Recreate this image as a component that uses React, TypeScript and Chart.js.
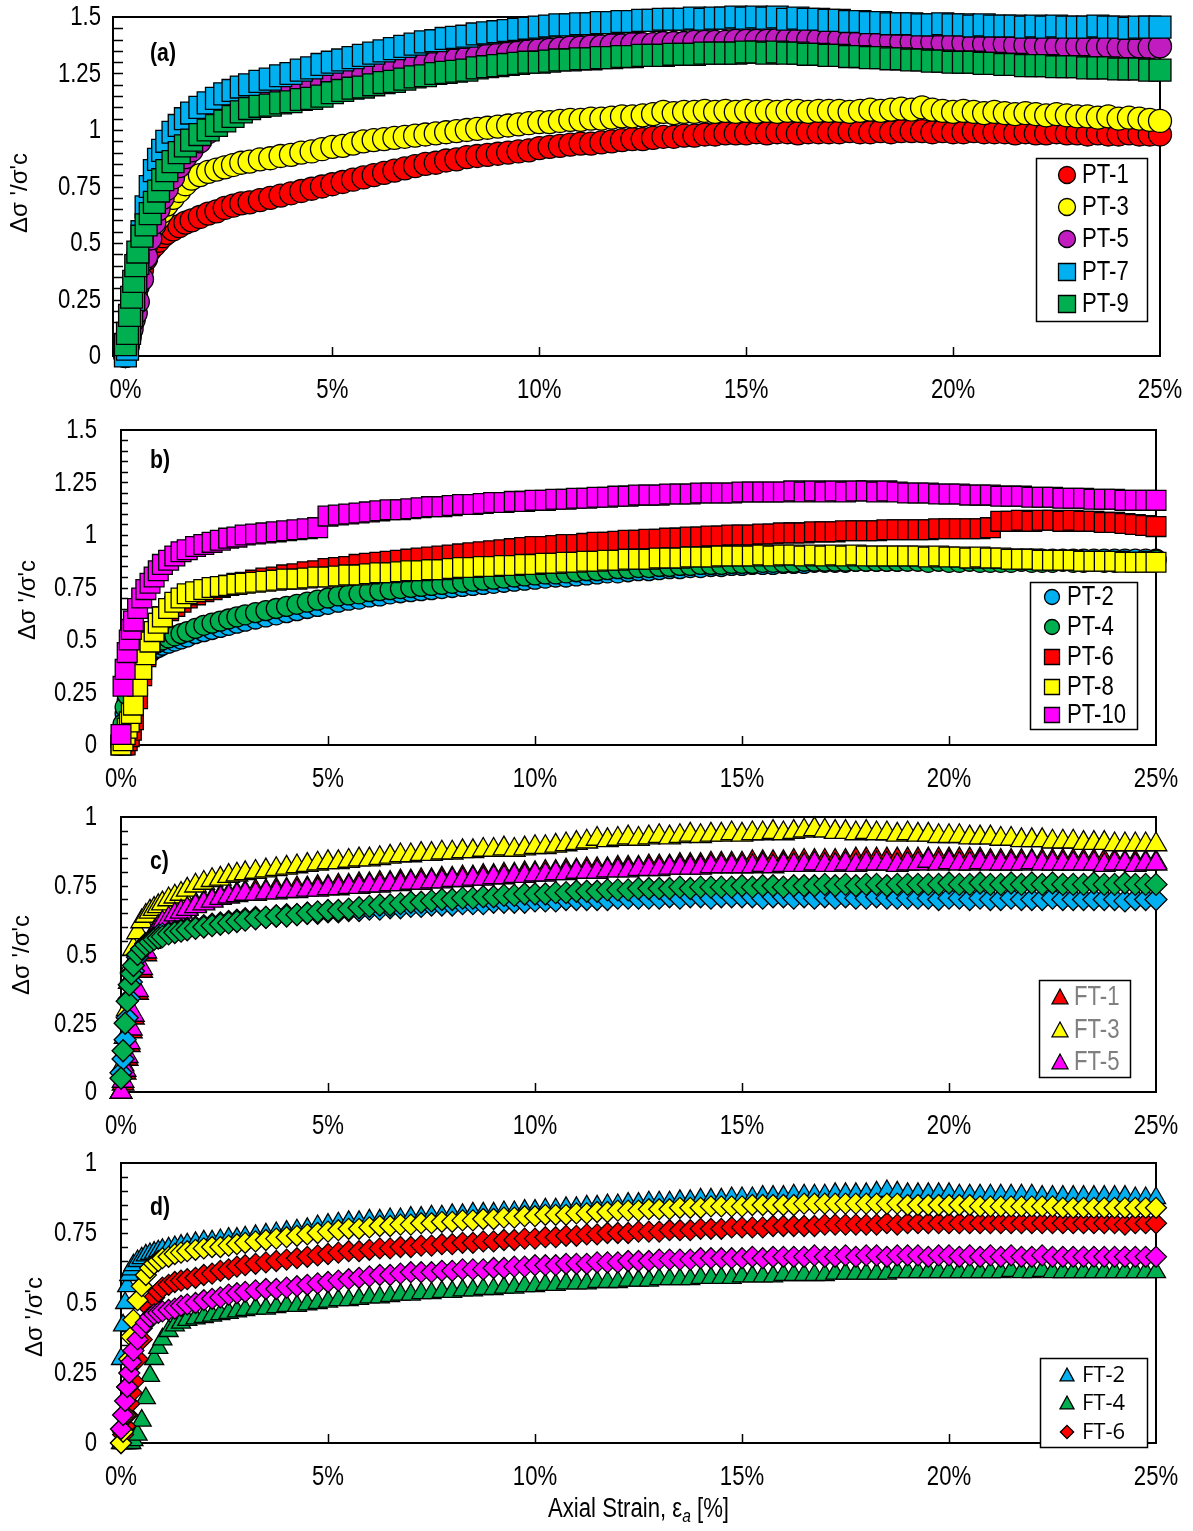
import React, { useEffect, useRef } from 'react';
import { Chart, registerables } from 'chart.js';

Chart.register(...registerables);

// ---------- DATA ----------
const strain = [
  0, 0.05, 0.1, 0.15, 0.2, 0.25, 0.3, 0.4, 0.5, 0.6, 0.7, 0.8, 0.9, 1, 1.15, 1.3, 1.45, 1.6, 1.8, 2, 2.2, 2.4, 2.6, 2.8, 3,
  3.25, 3.5, 3.75, 4, 4.25, 4.5, 4.75, 5,
  5.25, 5.5, 5.75, 6, 6.25, 6.5, 6.75, 7,
  7.25, 7.5, 7.75, 8, 8.25, 8.5, 8.75, 9,
  9.25, 9.5, 9.75, 10, 10.25, 10.5, 10.75, 11,
  11.25, 11.5, 11.75, 12, 12.25, 12.5, 12.75, 13,
  13.25, 13.5, 13.75, 14, 14.25, 14.5, 14.75, 15,
  15.25, 15.5, 15.75, 16, 16.25, 16.5, 16.75, 17,
  17.25, 17.5, 17.75, 18, 18.25, 18.5, 18.75, 19,
  19.25, 19.5, 19.75, 20, 20.25, 20.5, 20.75, 21,
  21.25, 21.5, 21.75, 22, 22.25, 22.5, 22.75, 23,
  23.25, 23.5, 23.75, 24, 24.25, 24.5, 24.75, 25,
];

// Panel (a)
const PT1 = [
  0, 0.04, 0.09, 0.14, 0.2, 0.26, 0.31, 0.38, 0.43, 0.47, 0.49, 0.51, 0.53, 0.545, 0.56, 0.575, 0.59, 0.6, 0.615, 0.63, 0.64, 0.655, 0.665, 0.675, 0.68,
  0.69, 0.7, 0.71, 0.72, 0.73, 0.74, 0.75, 0.76,
  0.77, 0.78, 0.79, 0.8, 0.81, 0.82, 0.83, 0.84,
  0.85, 0.855, 0.865, 0.87, 0.88, 0.885, 0.89, 0.895,
  0.9, 0.905, 0.91, 0.92, 0.925, 0.93, 0.935, 0.94,
  0.94, 0.945, 0.95, 0.955, 0.96, 0.96, 0.965, 0.97,
  0.97, 0.975, 0.975, 0.98, 0.98, 0.985, 0.985, 0.985,
  0.99, 0.985, 0.99, 0.99, 0.985, 0.99, 0.99, 0.99,
  0.99, 0.995, 0.99, 0.99, 0.995, 0.99, 0.995, 0.995,
  0.995, 0.99, 0.995, 0.99, 0.99, 0.995, 0.99, 0.99,
  0.99, 0.985, 0.99, 0.985, 0.985, 0.99, 0.985, 0.985,
  0.98, 0.985, 0.98, 0.98, 0.985, 0.98, 0.98, 0.98,
];
const PT3 = [
  0, 0.05, 0.1, 0.15, 0.21, 0.27, 0.33, 0.42, 0.49, 0.54, 0.58, 0.61, 0.64, 0.67, 0.7, 0.73, 0.76, 0.785, 0.8, 0.815, 0.825, 0.835, 0.845, 0.855, 0.86,
  0.87, 0.875, 0.885, 0.89, 0.9, 0.905, 0.915, 0.925,
  0.93, 0.94, 0.95, 0.955, 0.96, 0.965, 0.97, 0.975,
  0.98, 0.985, 0.99, 0.995, 1.0, 1.005, 1.01, 1.015,
  1.02, 1.025, 1.03, 1.035, 1.035, 1.04, 1.045, 1.045,
  1.05, 1.05, 1.055, 1.06, 1.06, 1.065, 1.07, 1.08,
  1.075, 1.08, 1.08, 1.085, 1.08, 1.085, 1.08, 1.085,
  1.08, 1.085, 1.08, 1.085, 1.085, 1.08, 1.085, 1.085,
  1.085, 1.08, 1.085, 1.09, 1.085, 1.09, 1.095, 1.09,
  1.1, 1.09, 1.085, 1.08, 1.085, 1.08, 1.075, 1.08,
  1.075, 1.07, 1.075, 1.07, 1.065, 1.07, 1.065, 1.06,
  1.06, 1.055, 1.06, 1.05, 1.055, 1.05, 1.045, 1.04,
];
const PT5 = [
  0, 0.04, 0.08, 0.12, 0.16, 0.19, 0.24, 0.34, 0.44, 0.52, 0.59, 0.65, 0.7, 0.74, 0.79, 0.84, 0.88, 0.91, 0.95, 0.99, 1.02, 1.05, 1.08, 1.1, 1.12,
  1.14, 1.15, 1.16, 1.17, 1.18, 1.19, 1.2, 1.215,
  1.225, 1.235, 1.245, 1.255, 1.265, 1.27, 1.28, 1.29,
  1.295, 1.3, 1.31, 1.315, 1.32, 1.325, 1.33, 1.335,
  1.34, 1.345, 1.35, 1.355, 1.355, 1.36, 1.365, 1.365,
  1.37, 1.37, 1.375, 1.375, 1.38, 1.38, 1.38, 1.385,
  1.385, 1.385, 1.39, 1.39, 1.39, 1.39, 1.395, 1.395,
  1.395, 1.395, 1.4, 1.4, 1.4, 1.4, 1.4, 1.4,
  1.4, 1.395, 1.4, 1.395, 1.395, 1.395, 1.39, 1.39,
  1.39, 1.39, 1.385, 1.385, 1.385, 1.38, 1.38, 1.38,
  1.38, 1.375, 1.375, 1.375, 1.37, 1.37, 1.37, 1.37,
  1.37, 1.365, 1.37, 1.365, 1.365, 1.37, 1.365, 1.37,
];
const PT7 = [
  0, 0.03, 0.1, 0.18, 0.25, 0.33, 0.41, 0.55, 0.66, 0.75, 0.82, 0.87, 0.91, 0.95, 0.99, 1.02, 1.05, 1.075, 1.1, 1.12, 1.14, 1.16, 1.175, 1.19, 1.2,
  1.215, 1.225, 1.24, 1.25, 1.265, 1.275, 1.29, 1.3,
  1.31, 1.32, 1.33, 1.34, 1.35, 1.36, 1.37, 1.38,
  1.39, 1.395, 1.405, 1.41, 1.415, 1.425, 1.43, 1.435,
  1.44, 1.445, 1.45, 1.455, 1.46, 1.465, 1.465, 1.47,
  1.47, 1.475, 1.475, 1.48, 1.48, 1.485, 1.485, 1.49,
  1.49, 1.49, 1.495, 1.49, 1.495, 1.495, 1.5, 1.495,
  1.5, 1.495, 1.5, 1.49, 1.495, 1.49, 1.49, 1.485,
  1.485, 1.48, 1.48, 1.475, 1.475, 1.47, 1.47, 1.47,
  1.465, 1.465, 1.47, 1.465, 1.465, 1.46, 1.465, 1.46,
  1.46, 1.46, 1.455, 1.46, 1.455, 1.46, 1.455, 1.455,
  1.455, 1.46, 1.455, 1.455, 1.45, 1.455, 1.455, 1.455,
];
const PT9 = [
  0.05, 0.1, 0.18, 0.26, 0.33, 0.4, 0.46, 0.53, 0.58, 0.63, 0.68, 0.73, 0.78, 0.82, 0.86, 0.9, 0.93, 0.955, 0.98, 1.0, 1.02, 1.04, 1.06, 1.08, 1.095,
  1.105, 1.11, 1.12, 1.125, 1.135, 1.14, 1.15, 1.165,
  1.175, 1.185, 1.19, 1.2, 1.21, 1.215, 1.225, 1.235,
  1.24, 1.25, 1.255, 1.26, 1.265, 1.275, 1.28, 1.285,
  1.29, 1.295, 1.3, 1.3, 1.305, 1.31, 1.31, 1.315,
  1.315, 1.32, 1.32, 1.325, 1.325, 1.33, 1.33, 1.33,
  1.335, 1.335, 1.335, 1.34, 1.34, 1.34, 1.34, 1.345,
  1.345, 1.34, 1.345, 1.34, 1.34, 1.335, 1.335, 1.33,
  1.33, 1.325, 1.325, 1.32, 1.32, 1.315, 1.315, 1.31,
  1.31, 1.305, 1.305, 1.3, 1.3, 1.3, 1.295, 1.295,
  1.29, 1.29, 1.285, 1.285, 1.285, 1.28, 1.28, 1.28,
  1.275, 1.275, 1.275, 1.27, 1.27, 1.27, 1.265, 1.265,
];

// Panel (b)
const PT2 = [
  0, 0.08, 0.15, 0.21, 0.26, 0.3, 0.33, 0.37, 0.4, 0.42, 0.44, 0.455, 0.465, 0.475, 0.485, 0.495, 0.505, 0.515, 0.53, 0.54, 0.55, 0.56, 0.57, 0.58, 0.59,
  0.6, 0.61, 0.62, 0.63, 0.64, 0.65, 0.66, 0.67,
  0.68, 0.69, 0.695, 0.705, 0.71, 0.72, 0.725, 0.73,
  0.735, 0.74, 0.745, 0.75, 0.755, 0.76, 0.765, 0.77,
  0.775, 0.78, 0.785, 0.79, 0.795, 0.8, 0.8, 0.805,
  0.81, 0.815, 0.82, 0.82, 0.825, 0.83, 0.83, 0.835,
  0.84, 0.84, 0.845, 0.845, 0.85, 0.85, 0.855, 0.855,
  0.86, 0.86, 0.86, 0.865, 0.865, 0.865, 0.87, 0.87,
  0.87, 0.87, 0.875, 0.875, 0.875, 0.875, 0.875, 0.88,
  0.88, 0.88, 0.88, 0.88, 0.88, 0.885, 0.885, 0.885,
  0.885, 0.885, 0.885, 0.885, 0.885, 0.885, 0.885, 0.885,
  0.885, 0.885, 0.885, 0.885, 0.885, 0.885, 0.885, 0.885,
];
const PT4 = [
  0, 0.1, 0.18, 0.24, 0.29, 0.33, 0.36, 0.4, 0.43, 0.45, 0.47, 0.48, 0.49, 0.5, 0.51, 0.52, 0.53, 0.54, 0.555, 0.57, 0.58, 0.59, 0.6, 0.61, 0.62,
  0.63, 0.64, 0.65, 0.66, 0.67, 0.68, 0.69, 0.7,
  0.71, 0.715, 0.72, 0.73, 0.735, 0.74, 0.745, 0.75,
  0.755, 0.76, 0.765, 0.77, 0.775, 0.78, 0.785, 0.79,
  0.795, 0.8, 0.805, 0.81, 0.815, 0.815, 0.82, 0.825,
  0.83, 0.83, 0.835, 0.84, 0.84, 0.845, 0.845, 0.85,
  0.85, 0.855, 0.855, 0.86, 0.86, 0.86, 0.865, 0.865,
  0.865, 0.87, 0.87, 0.87, 0.87, 0.875, 0.875, 0.875,
  0.875, 0.875, 0.875, 0.875, 0.875, 0.875, 0.875, 0.875,
  0.875, 0.87, 0.875, 0.87, 0.87, 0.875, 0.87, 0.87,
  0.87, 0.87, 0.875, 0.87, 0.87, 0.87, 0.875, 0.87,
  0.87, 0.875, 0.87, 0.87, 0.875, 0.87, 0.875, 0.88,
];
const PT6 = [
  0, 0, 0, 0.02, 0.04, 0.07, 0.12, 0.22, 0.33, 0.42, 0.49, 0.54, 0.58, 0.61, 0.64, 0.66, 0.68, 0.7, 0.715, 0.73, 0.74, 0.75, 0.76, 0.77, 0.775,
  0.785, 0.795, 0.8, 0.81, 0.815, 0.825, 0.83, 0.84,
  0.845, 0.85, 0.86, 0.865, 0.87, 0.875, 0.88, 0.885,
  0.89, 0.895, 0.9, 0.905, 0.91, 0.915, 0.92, 0.925,
  0.93, 0.935, 0.94, 0.945, 0.945, 0.95, 0.955, 0.955,
  0.96, 0.965, 0.965, 0.97, 0.975, 0.975, 0.98, 0.98,
  0.985, 0.985, 0.99, 0.99, 0.995, 0.995, 1.0, 1.0,
  1.0, 1.005, 1.005, 1.01, 1.01, 1.01, 1.015, 1.015,
  1.015, 1.02, 1.02, 1.02, 1.02, 1.025, 1.025, 1.025,
  1.025, 1.025, 1.03, 1.03, 1.03, 1.03, 1.03, 1.035,
  1.065, 1.065, 1.07, 1.065, 1.07, 1.07, 1.065, 1.07,
  1.065, 1.065, 1.06, 1.06, 1.055, 1.05, 1.045, 1.04,
];
const PT8 = [
  0, 0.02, 0.05, 0.08, 0.11, 0.15, 0.19, 0.28, 0.36, 0.43, 0.49, 0.54, 0.58, 0.61, 0.65, 0.68, 0.7, 0.72, 0.73, 0.74, 0.75, 0.755, 0.76, 0.765, 0.77,
  0.775, 0.78, 0.785, 0.79, 0.79, 0.795, 0.8, 0.8,
  0.805, 0.81, 0.81, 0.815, 0.82, 0.82, 0.825, 0.83,
  0.83, 0.835, 0.835, 0.84, 0.845, 0.845, 0.85, 0.85,
  0.855, 0.855, 0.86, 0.86, 0.865, 0.865, 0.87, 0.87,
  0.875, 0.875, 0.88, 0.88, 0.885, 0.885, 0.885, 0.89,
  0.89, 0.89, 0.895, 0.895, 0.895, 0.9, 0.9, 0.9,
  0.9, 0.905, 0.9, 0.905, 0.905, 0.9, 0.905, 0.9,
  0.905, 0.9, 0.905, 0.9, 0.9, 0.9, 0.9, 0.9,
  0.9, 0.895, 0.9, 0.895, 0.895, 0.89, 0.895, 0.89,
  0.89, 0.885, 0.885, 0.885, 0.88, 0.88, 0.88, 0.88,
  0.875, 0.875, 0.875, 0.875, 0.87, 0.87, 0.87, 0.87,
];
const PT10 = [
  0.05, 0.28, 0.36, 0.44, 0.5, 0.55, 0.59, 0.65, 0.7, 0.74, 0.77, 0.8, 0.83, 0.86, 0.88, 0.9, 0.92, 0.93, 0.945, 0.955, 0.965, 0.975, 0.985, 0.99, 1.0,
  1.005, 1.01, 1.015, 1.02, 1.025, 1.03, 1.035, 1.09,
  1.095, 1.1, 1.105, 1.11, 1.115, 1.12, 1.12, 1.125,
  1.13, 1.135, 1.135, 1.14, 1.145, 1.145, 1.15, 1.155,
  1.155, 1.16, 1.16, 1.165, 1.165, 1.17, 1.17, 1.175,
  1.175, 1.18, 1.18, 1.185, 1.185, 1.19, 1.19, 1.19,
  1.195, 1.195, 1.195, 1.2, 1.2, 1.2, 1.2, 1.205,
  1.205, 1.205, 1.205, 1.205, 1.21, 1.205, 1.21, 1.205,
  1.21, 1.205, 1.21, 1.21, 1.205, 1.21, 1.205, 1.2,
  1.2, 1.2, 1.195, 1.195, 1.195, 1.19, 1.19, 1.19,
  1.185, 1.185, 1.185, 1.18, 1.18, 1.18, 1.175, 1.175,
  1.175, 1.17, 1.17, 1.17, 1.165, 1.165, 1.165, 1.165,
];

// Panel (c)
const FT1 = [
  0, 0.03, 0.07, 0.12, 0.17, 0.22, 0.27, 0.36, 0.44, 0.5, 0.545, 0.575, 0.6, 0.615, 0.635, 0.65, 0.66, 0.67, 0.68, 0.69, 0.7, 0.71, 0.715, 0.72, 0.725,
  0.73, 0.73, 0.735, 0.735, 0.74, 0.74, 0.745, 0.745,
  0.75, 0.75, 0.755, 0.755, 0.76, 0.76, 0.765, 0.765,
  0.77, 0.77, 0.775, 0.775, 0.78, 0.78, 0.785, 0.785,
  0.79, 0.79, 0.795, 0.795, 0.8, 0.8, 0.805, 0.805,
  0.81, 0.81, 0.81, 0.815, 0.815, 0.815, 0.82, 0.82,
  0.82, 0.825, 0.825, 0.825, 0.83, 0.83, 0.83, 0.83,
  0.835, 0.835, 0.835, 0.835, 0.84, 0.84, 0.84, 0.84,
  0.84, 0.84, 0.845, 0.845, 0.845, 0.845, 0.845, 0.845,
  0.845, 0.845, 0.845, 0.845, 0.845, 0.845, 0.845, 0.84,
  0.84, 0.84, 0.84, 0.84, 0.84, 0.84, 0.84, 0.84,
  0.84, 0.84, 0.84, 0.84, 0.835, 0.835, 0.835, 0.835,
];
const FT3 = [
  0, 0.1, 0.2, 0.3, 0.4, 0.46, 0.52, 0.58, 0.62, 0.64, 0.655, 0.665, 0.675, 0.685, 0.7, 0.71, 0.72, 0.735, 0.75, 0.76, 0.77, 0.775, 0.785, 0.79, 0.795,
  0.8, 0.805, 0.81, 0.815, 0.82, 0.825, 0.83, 0.835,
  0.835, 0.84, 0.845, 0.845, 0.85, 0.855, 0.86, 0.86,
  0.865, 0.865, 0.87, 0.87, 0.875, 0.875, 0.88, 0.88,
  0.885, 0.88, 0.885, 0.89, 0.89, 0.895, 0.9, 0.905,
  0.91, 0.92, 0.915, 0.92, 0.925, 0.92, 0.925, 0.93,
  0.925, 0.93, 0.935, 0.93, 0.935, 0.935, 0.94, 0.935,
  0.94, 0.94, 0.945, 0.94, 0.945, 0.95, 0.955, 0.95,
  0.945, 0.945, 0.94, 0.945, 0.94, 0.94, 0.935, 0.94,
  0.935, 0.935, 0.93, 0.93, 0.93, 0.925, 0.925, 0.925,
  0.92, 0.92, 0.915, 0.915, 0.915, 0.91, 0.91, 0.91,
  0.905, 0.905, 0.905, 0.9, 0.9, 0.9, 0.9, 0.9,
];
const FT5 = [
  0, 0.04, 0.08, 0.13, 0.18, 0.23, 0.28, 0.37, 0.45, 0.51, 0.55, 0.58, 0.6, 0.615, 0.63, 0.645, 0.655, 0.665, 0.675, 0.685, 0.695, 0.705, 0.71, 0.715, 0.72,
  0.72, 0.725, 0.725, 0.73, 0.73, 0.735, 0.735, 0.74,
  0.74, 0.745, 0.745, 0.75, 0.75, 0.755, 0.755, 0.76,
  0.76, 0.765, 0.765, 0.77, 0.77, 0.775, 0.775, 0.78,
  0.78, 0.785, 0.785, 0.79, 0.79, 0.795, 0.795, 0.8,
  0.8, 0.8, 0.805, 0.805, 0.805, 0.81, 0.81, 0.81,
  0.815, 0.815, 0.815, 0.815, 0.82, 0.82, 0.82, 0.82,
  0.82, 0.825, 0.82, 0.825, 0.825, 0.825, 0.83, 0.825,
  0.825, 0.83, 0.825, 0.83, 0.83, 0.83, 0.825, 0.83,
  0.83, 0.84, 0.83, 0.835, 0.83, 0.83, 0.835, 0.83,
  0.83, 0.83, 0.83, 0.835, 0.83, 0.83, 0.83, 0.83,
  0.83, 0.83, 0.825, 0.83, 0.83, 0.825, 0.83, 0.83,
];
const FT_C_BLUE = [
  0.07, 0.12, 0.19, 0.27, 0.34, 0.4, 0.44, 0.49, 0.52, 0.54, 0.55, 0.56, 0.57, 0.575, 0.58, 0.585, 0.59, 0.595, 0.6, 0.605, 0.61, 0.615, 0.62, 0.625, 0.63,
  0.635, 0.635, 0.64, 0.645, 0.645, 0.65, 0.65, 0.655,
  0.655, 0.66, 0.66, 0.665, 0.665, 0.67, 0.67, 0.675,
  0.675, 0.68, 0.68, 0.68, 0.685, 0.685, 0.685, 0.69,
  0.69, 0.69, 0.69, 0.695, 0.695, 0.695, 0.7, 0.7,
  0.7, 0.7, 0.7, 0.705, 0.705, 0.705, 0.705, 0.705,
  0.71, 0.705, 0.71, 0.71, 0.705, 0.71, 0.71, 0.71,
  0.71, 0.705, 0.71, 0.71, 0.705, 0.71, 0.705, 0.71,
  0.705, 0.71, 0.705, 0.705, 0.71, 0.705, 0.705, 0.705,
  0.705, 0.705, 0.7, 0.705, 0.705, 0.7, 0.705, 0.7,
  0.7, 0.705, 0.7, 0.7, 0.7, 0.705, 0.7, 0.7,
  0.7, 0.7, 0.7, 0.7, 0.695, 0.7, 0.7, 0.7,
];
const FT_C_GREEN = [
  0.05, 0.15, 0.25, 0.33, 0.39, 0.43, 0.46, 0.5, 0.52, 0.535, 0.545, 0.555, 0.56, 0.565, 0.575, 0.58, 0.585, 0.59, 0.595, 0.6, 0.605, 0.61, 0.615, 0.62, 0.625,
  0.63, 0.635, 0.64, 0.64, 0.645, 0.65, 0.655, 0.66,
  0.66, 0.665, 0.67, 0.675, 0.68, 0.68, 0.685, 0.69,
  0.69, 0.695, 0.7, 0.7, 0.705, 0.705, 0.71, 0.71,
  0.715, 0.715, 0.72, 0.72, 0.72, 0.725, 0.725, 0.73,
  0.73, 0.73, 0.735, 0.735, 0.735, 0.74, 0.74, 0.74,
  0.74, 0.745, 0.74, 0.745, 0.745, 0.745, 0.745, 0.75,
  0.745, 0.75, 0.75, 0.745, 0.75, 0.75, 0.75, 0.755,
  0.75, 0.755, 0.75, 0.755, 0.755, 0.75, 0.755, 0.755,
  0.755, 0.755, 0.755, 0.76, 0.755, 0.755, 0.76, 0.755,
  0.755, 0.76, 0.755, 0.76, 0.755, 0.76, 0.755, 0.755,
  0.755, 0.76, 0.755, 0.755, 0.76, 0.755, 0.755, 0.755,
];

// Panel (d)
const FT2 = [
  0.3, 0.42, 0.5, 0.56, 0.6, 0.62, 0.635, 0.65, 0.66, 0.67, 0.675, 0.68, 0.685, 0.69, 0.695, 0.7, 0.705, 0.71, 0.715, 0.72, 0.72, 0.725, 0.73, 0.73, 0.735,
  0.74, 0.745, 0.75, 0.755, 0.76, 0.765, 0.775, 0.78,
  0.785, 0.79, 0.79, 0.795, 0.795, 0.8, 0.8, 0.805,
  0.805, 0.81, 0.81, 0.815, 0.815, 0.82, 0.82, 0.82,
  0.825, 0.825, 0.83, 0.83, 0.835, 0.835, 0.84, 0.84,
  0.845, 0.845, 0.85, 0.85, 0.855, 0.855, 0.86, 0.86,
  0.86, 0.865, 0.865, 0.87, 0.87, 0.87, 0.875, 0.875,
  0.875, 0.88, 0.88, 0.88, 0.885, 0.885, 0.885, 0.885,
  0.89, 0.89, 0.89, 0.89, 0.895, 0.9, 0.895, 0.89,
  0.89, 0.89, 0.89, 0.89, 0.885, 0.885, 0.885, 0.885,
  0.885, 0.885, 0.885, 0.885, 0.88, 0.88, 0.88, 0.88,
  0.88, 0.88, 0.88, 0.88, 0.88, 0.875, 0.875, 0.875,
];
const FT4 = [
  0, 0, 0, 0, 0, 0, 0.01, 0.03, 0.08, 0.16, 0.24, 0.3, 0.34, 0.37, 0.4, 0.42, 0.43, 0.44, 0.445, 0.45, 0.455, 0.46, 0.465, 0.47, 0.475,
  0.48, 0.48, 0.485, 0.49, 0.49, 0.495, 0.5, 0.505,
  0.51, 0.51, 0.515, 0.52, 0.52, 0.525, 0.53, 0.53,
  0.535, 0.535, 0.54, 0.54, 0.545, 0.545, 0.55, 0.55,
  0.555, 0.555, 0.56, 0.56, 0.565, 0.565, 0.57, 0.57,
  0.57, 0.575, 0.575, 0.575, 0.58, 0.58, 0.58, 0.585,
  0.585, 0.585, 0.585, 0.59, 0.59, 0.59, 0.59, 0.595,
  0.595, 0.595, 0.595, 0.6, 0.6, 0.6, 0.6, 0.6,
  0.605, 0.605, 0.605, 0.605, 0.605, 0.605, 0.61, 0.61,
  0.61, 0.61, 0.61, 0.61, 0.61, 0.61, 0.61, 0.61,
  0.61, 0.615, 0.61, 0.61, 0.615, 0.61, 0.61, 0.61,
  0.61, 0.61, 0.61, 0.61, 0.61, 0.61, 0.61, 0.61,
];
const FT6 = [
  0, 0.03, 0.06, 0.1, 0.14, 0.18, 0.22, 0.3, 0.37, 0.43, 0.48, 0.52, 0.54, 0.555, 0.565, 0.575, 0.58, 0.585, 0.59, 0.6, 0.605, 0.615, 0.62, 0.63, 0.635,
  0.64, 0.645, 0.65, 0.655, 0.66, 0.665, 0.67, 0.675,
  0.68, 0.685, 0.685, 0.69, 0.695, 0.695, 0.7, 0.7,
  0.705, 0.705, 0.71, 0.71, 0.715, 0.715, 0.72, 0.72,
  0.725, 0.725, 0.73, 0.73, 0.735, 0.735, 0.74, 0.74,
  0.745, 0.745, 0.75, 0.75, 0.75, 0.755, 0.755, 0.755,
  0.76, 0.76, 0.76, 0.765, 0.765, 0.765, 0.77, 0.77,
  0.77, 0.77, 0.775, 0.775, 0.775, 0.775, 0.775, 0.78,
  0.78, 0.78, 0.78, 0.78, 0.78, 0.785, 0.78, 0.785,
  0.785, 0.785, 0.785, 0.785, 0.785, 0.785, 0.785, 0.785,
  0.785, 0.785, 0.785, 0.785, 0.785, 0.785, 0.785, 0.785,
  0.785, 0.785, 0.785, 0.785, 0.78, 0.785, 0.785, 0.785,
];
const FT_D_YELLOW = [
  0, 0.04, 0.1, 0.2, 0.3, 0.38, 0.44, 0.51, 0.56, 0.6, 0.625, 0.64, 0.65, 0.66, 0.665, 0.675, 0.68, 0.685, 0.69, 0.695, 0.7, 0.7, 0.705, 0.71, 0.715,
  0.72, 0.725, 0.73, 0.735, 0.74, 0.745, 0.75, 0.755,
  0.76, 0.765, 0.765, 0.77, 0.775, 0.775, 0.78, 0.78,
  0.785, 0.785, 0.79, 0.79, 0.795, 0.795, 0.8, 0.8,
  0.805, 0.805, 0.81, 0.81, 0.815, 0.815, 0.815, 0.82,
  0.82, 0.825, 0.825, 0.83, 0.83, 0.83, 0.835, 0.835,
  0.835, 0.84, 0.84, 0.84, 0.845, 0.845, 0.845, 0.845,
  0.85, 0.85, 0.85, 0.85, 0.85, 0.855, 0.855, 0.855,
  0.855, 0.855, 0.855, 0.855, 0.855, 0.855, 0.855, 0.85,
  0.85, 0.85, 0.85, 0.85, 0.85, 0.85, 0.845, 0.845,
  0.845, 0.845, 0.845, 0.845, 0.845, 0.845, 0.84, 0.84,
  0.84, 0.84, 0.84, 0.84, 0.84, 0.84, 0.84, 0.84,
];
const FT_D_MAGENTA = [
  0.05, 0.1, 0.15, 0.2, 0.25, 0.29, 0.33, 0.37, 0.41, 0.43, 0.45, 0.46, 0.465, 0.47, 0.475, 0.48, 0.49, 0.495, 0.5, 0.51, 0.515, 0.52, 0.53, 0.535, 0.54,
  0.545, 0.55, 0.55, 0.555, 0.56, 0.565, 0.57, 0.575,
  0.58, 0.585, 0.59, 0.595, 0.6, 0.6, 0.605, 0.61,
  0.61, 0.61, 0.615, 0.615, 0.62, 0.62, 0.62, 0.625,
  0.625, 0.63, 0.63, 0.635, 0.635, 0.635, 0.64, 0.64,
  0.64, 0.645, 0.645, 0.645, 0.65, 0.65, 0.65, 0.655,
  0.655, 0.655, 0.655, 0.66, 0.66, 0.66, 0.66, 0.66,
  0.665, 0.66, 0.665, 0.665, 0.665, 0.665, 0.67, 0.665,
  0.665, 0.67, 0.665, 0.67, 0.67, 0.665, 0.67, 0.67,
  0.67, 0.665, 0.67, 0.67, 0.665, 0.67, 0.665, 0.67,
  0.665, 0.67, 0.665, 0.665, 0.67, 0.665, 0.665, 0.665,
  0.665, 0.665, 0.665, 0.665, 0.665, 0.665, 0.665, 0.665,
];

const xTickValues = [0, 5, 10, 15, 20, 25];
const yTicksHigh = [0, 0.25, 0.5, 0.75, 1, 1.25, 1.5];
const yTicksLow = [0, 0.25, 0.5, 0.75, 1];

// ---------- STYLE ----------
const W = 1193;
const SANS = '"Liberation Sans", Arial, sans-serif';
const NARROW_SX = 0.82;
const C = {
  red: '#ff0000',
  yellow: '#ffff00',
  purple: '#c01cc0',
  blue: '#00b0f0',
  green: '#00b050',
  magenta: '#ff00ff',
};

type Series = { label: string; values: number[]; color: string; style: string; radius: number; legend: boolean };
type LegendCfg = { box: [number, number, number, number]; ys: number[]; mx: number; mr: number; tx: number; font: string; sx: number; color: string };
type PanelCfg = {
  key: string; top: number; h: number;
  area: { l: number; r: number; t: number; b: number };
  xMin: number; yMax: number; yTicks: number[]; yLabelRight: number; yMinorLen: number;
  series: Series[]; legend: LegendCfg;
  tag: string; tagY: number; titleX: number; titleY: number; xTitle: boolean;
};

const panels: PanelCfg[] = [
  {
    key: 'a', top: 0, h: 410, area: { l: 113, r: 1160, t: 17, b: 356 },
    xMin: -0.3, yMax: 1.5, yTicks: yTicksHigh, yLabelRight: 101, yMinorLen: 10,
    series: [
      { label: 'PT-1', values: PT1, color: C.red, style: 'circle', radius: 11.5, legend: true },
      { label: 'PT-3', values: PT3, color: C.yellow, style: 'circle', radius: 11.5, legend: true },
      { label: 'PT-5', values: PT5, color: C.purple, style: 'circle', radius: 11.5, legend: true },
      { label: 'PT-7', values: PT7, color: C.blue, style: 'rect', radius: 15.5, legend: true },
      { label: 'PT-9', values: PT9, color: C.green, style: 'rect', radius: 15.5, legend: true },
    ],
    legend: { box: [1036, 158, 111, 163], ys: [175, 207, 239, 272, 304], mx: 1067, mr: 8.5, tx: 1082, font: `27px ${SANS}`, sx: NARROW_SX, color: '#000' },
    tag: '(a)', tagY: 54, titleX: 20, titleY: 193, xTitle: false,
  },
  {
    key: 'b', top: 410, h: 390, area: { l: 121, r: 1156, t: 20, b: 335 },
    xMin: 0, yMax: 1.5, yTicks: yTicksHigh, yLabelRight: 97, yMinorLen: 7,
    series: [
      { label: 'PT-2', values: PT2, color: C.blue, style: 'circle', radius: 10, legend: true },
      { label: 'PT-4', values: PT4, color: C.green, style: 'circle', radius: 10, legend: true },
      { label: 'PT-6', values: PT6, color: C.red, style: 'rect', radius: 14, legend: true },
      { label: 'PT-8', values: PT8, color: C.yellow, style: 'rect', radius: 14, legend: true },
      { label: 'PT-10', values: PT10, color: C.magenta, style: 'rect', radius: 14, legend: true },
    ],
    legend: { box: [1030, 172, 107, 147], ys: [187, 217, 247, 277, 305], mx: 1052, mr: 7.5, tx: 1067, font: `27px ${SANS}`, sx: NARROW_SX, color: '#000' },
    tag: 'b)', tagY: 51, titleX: 28, titleY: 190, xTitle: false,
  },
  {
    key: 'c', top: 800, h: 345, area: { l: 121, r: 1156, t: 17, b: 292 },
    xMin: 0, yMax: 1, yTicks: yTicksLow, yLabelRight: 97, yMinorLen: 7,
    series: [
      { label: 'FT-1', values: FT1, color: C.red, style: 'triangle', radius: 12.5, legend: true },
      { label: 'FT-3', values: FT3, color: C.yellow, style: 'triangle', radius: 12.5, legend: true },
      { label: 'FT-5', values: FT5, color: C.magenta, style: 'triangle', radius: 12.5, legend: true },
      { label: '', values: FT_C_BLUE, color: C.blue, style: 'rectRot', radius: 11, legend: false },
      { label: '', values: FT_C_GREEN, color: C.green, style: 'rectRot', radius: 11, legend: false },
    ],
    legend: { box: [1039, 180, 91, 97], ys: [197, 230, 262], mx: 1060, mr: 8, tx: 1074, font: `27px ${SANS}`, sx: NARROW_SX, color: '#7f7f7f' },
    tag: 'c)', tagY: 62, titleX: 22, titleY: 155, xTitle: false,
  },
  {
    key: 'd', top: 1145, h: 386, area: { l: 121, r: 1156, t: 18, b: 298 },
    xMin: 0, yMax: 1, yTicks: yTicksLow, yLabelRight: 97, yMinorLen: 7,
    series: [
      { label: 'FT-2', values: FT2, color: C.blue, style: 'triangle', radius: 11, legend: true },
      { label: 'FT-4', values: FT4, color: C.green, style: 'triangle', radius: 11, legend: true },
      { label: 'FT-6', values: FT6, color: C.red, style: 'rectRot', radius: 10.5, legend: true },
      { label: '', values: FT_D_YELLOW, color: C.yellow, style: 'rectRot', radius: 10.5, legend: false },
      { label: '', values: FT_D_MAGENTA, color: C.magenta, style: 'rectRot', radius: 10.5, legend: false },
    ],
    legend: { box: [1040, 213, 107, 89], ys: [230, 258, 287], mx: 1067, mr: 7, tx: 1082, font: `22px "Open Sans", ${SANS}`, sx: 1, color: '#000' },
    tag: 'd)', tagY: 63, titleX: 35, titleY: 172, xTitle: true,
  },
];

function drawMarker(ctx: CanvasRenderingContext2D, style: string, x: number, y: number, r: number, fill: string) {
  ctx.save();
  ctx.beginPath();
  if (style === 'circle') ctx.arc(x, y, r, 0, Math.PI * 2);
  else if (style === 'rect') ctx.rect(x - r, y - r, 2 * r, 2 * r);
  else if (style === 'triangle') {
    ctx.moveTo(x, y - r);
    ctx.lineTo(x + r, y + r * 0.85);
    ctx.lineTo(x - r, y + r * 0.85);
    ctx.closePath();
  } else {
    ctx.moveTo(x, y - r);
    ctx.lineTo(x + r, y);
    ctx.lineTo(x, y + r);
    ctx.lineTo(x - r, y);
    ctx.closePath();
  }
  ctx.fillStyle = fill;
  ctx.fill();
  ctx.lineWidth = 1.3;
  ctx.strokeStyle = '#000';
  ctx.stroke();
  ctx.restore();
}

// draws text horizontally compressed (narrow face look); returns drawn width
function drawText(
  ctx: CanvasRenderingContext2D, text: string, x: number, y: number,
  align: 'left' | 'center' | 'right', font: string, color: string, sx: number,
  baseline: CanvasTextBaseline = 'middle',
) {
  ctx.save();
  ctx.font = font;
  ctx.fillStyle = color;
  ctx.textAlign = 'left';
  ctx.textBaseline = baseline;
  const w = ctx.measureText(text).width * sx;
  const left = align === 'left' ? x : align === 'center' ? x - w / 2 : x - w;
  ctx.translate(left, y);
  ctx.scale(sx, 1);
  ctx.fillText(text, 0, 0);
  ctx.restore();
  return w;
}

function makePlugin(p: PanelCfg) {
  return {
    id: 'deco_' + p.key,
    beforeDatasetsDraw(chart: any) {
      const ctx: CanvasRenderingContext2D = chart.ctx;
      const a = chart.chartArea;
      const xs = chart.scales.x;
      const ys = chart.scales.y;
      ctx.save();
      ctx.strokeStyle = '#000';
      ctx.lineWidth = 2;
      ctx.strokeRect(a.left, a.top, a.right - a.left, a.bottom - a.top);
      ctx.lineWidth = 1.5;
      ctx.beginPath();
      const steps = Math.round(p.yMax / 0.05);
      for (let i = 1; i < steps; i++) {
        const py = Math.round(ys.getPixelForValue(i * 0.05)) + 0.5;
        ctx.moveTo(a.left, py);
        ctx.lineTo(a.left + p.yMinorLen, py);
      }
      for (const v of xTickValues) {
        if (v <= 0 || v >= 25) continue;
        const px = Math.round(xs.getPixelForValue(v)) + 0.5;
        ctx.moveTo(px, a.bottom);
        ctx.lineTo(px, a.bottom - 9);
      }
      ctx.stroke();
      ctx.restore();
      // tick labels
      const tf = `27px ${SANS}`;
      for (const v of p.yTicks) {
        drawText(ctx, String(v), p.yLabelRight, ys.getPixelForValue(v) + 1, 'right', tf, '#000', NARROW_SX);
      }
      for (const v of xTickValues) {
        drawText(ctx, `${v}%`, xs.getPixelForValue(v), a.bottom + 35, 'center', tf, '#000', NARROW_SX);
      }
      // y title
      ctx.save();
      ctx.translate(p.titleX, p.titleY);
      ctx.rotate(-Math.PI / 2);
      ctx.font = `24px ${SANS}`;
      ctx.fillStyle = '#000';
      ctx.textAlign = 'center';
      ctx.textBaseline = 'middle';
      ctx.fillText("Δσ '/σ'c", 0, 0);
      ctx.restore();
    },
    afterDatasetsDraw(chart: any) {
      const ctx: CanvasRenderingContext2D = chart.ctx;
      const a = chart.chartArea;
      ctx.save();
      // panel tag
      drawText(ctx, p.tag, 150, p.tagY, 'left', `bold 25px ${SANS}`, '#000', 0.85);
      // legend
      const L = p.legend;
      ctx.fillStyle = '#fff';
      ctx.fillRect(L.box[0], L.box[1], L.box[2], L.box[3]);
      ctx.strokeStyle = '#000';
      ctx.lineWidth = 1.5;
      ctx.strokeRect(L.box[0] + 0.5, L.box[1] + 0.5, L.box[2], L.box[3]);
      const items = p.series.filter((s) => s.legend);
      items.forEach((s, i) => {
        const y = L.ys[i];
        const r = s.style === 'rectRot' ? L.mr * 0.95 : L.mr;
        drawMarker(ctx, s.style, L.mx, y, r, s.color);
        drawText(ctx, s.label, L.tx, y + 1, 'left', L.font, L.color, L.sx);
      });
      // x title
      if (p.xTitle) {
        const base = 372;
        const mainFont = `27px ${SANS}`;
        const subFont = `italic 19px ${SANS}`;
        const t1 = 'Axial Strain, ε';
        const t2 = 'a';
        const t3 = ' [%]';
        ctx.font = mainFont;
        const w1 = ctx.measureText(t1).width * NARROW_SX;
        const w3 = ctx.measureText(t3).width * NARROW_SX;
        ctx.font = subFont;
        const w2 = ctx.measureText(t2).width * NARROW_SX;
        let x = (a.left + a.right) / 2 - (w1 + w2 + w3) / 2;
        drawText(ctx, t1, x, base, 'left', mainFont, '#000', NARROW_SX, 'alphabetic');
        x += w1;
        drawText(ctx, t2, x, base + 5, 'left', subFont, '#000', NARROW_SX, 'alphabetic');
        x += w2;
        drawText(ctx, t3, x, base, 'left', mainFont, '#000', NARROW_SX, 'alphabetic');
      }
      ctx.restore();
    },
  };
}

function buildConfig(p: PanelCfg): any {
  const n = p.series.length;
  const datasets = p.series.map((s, i) => ({
    label: s.label,
    data: strain.map((x, k) => ({ x, y: s.values[k] })),
    pointStyle: s.style,
    pointRadius: s.radius,
    pointHoverRadius: s.radius,
    backgroundColor: s.color,
    borderColor: '#000',
    pointBackgroundColor: s.color,
    pointBorderColor: '#000',
    pointBorderWidth: 1.3,
    showLine: false,
    clip: false,
    order: n - i,
  }));
  return {
    type: 'scatter',
    data: { datasets },
    options: {
      animation: false,
      responsive: false,
      devicePixelRatio: 1,
      events: [],
      layout: { padding: { left: p.area.l, top: p.area.t, right: W - p.area.r, bottom: p.h - p.area.b } },
      plugins: { legend: { display: false }, tooltip: { enabled: false } },
      scales: {
        x: { type: 'linear', display: false, min: p.xMin, max: 25 },
        y: { type: 'linear', display: false, min: 0, max: p.yMax },
      },
    },
    plugins: [makePlugin(p)],
  };
}

function Panel({ cfg }: { cfg: PanelCfg }) {
  const ref = useRef<HTMLCanvasElement>(null);
  useEffect(() => {
    const chart = new Chart(ref.current as HTMLCanvasElement, buildConfig(cfg));
    return () => chart.destroy();
  }, [cfg]);
  return (
    <canvas
      ref={ref}
      width={W}
      height={cfg.h}
      style={{ position: 'absolute', left: 0, top: cfg.top, width: W, height: cfg.h }}
    />
  );
}

export default function App() {
  return (
    <div style={{ position: 'absolute', left: 0, top: 0, width: W, height: 1531, background: '#fff' }}>
      {panels.map((p) => (
        <Panel key={p.key} cfg={p} />
      ))}
    </div>
  );
}
